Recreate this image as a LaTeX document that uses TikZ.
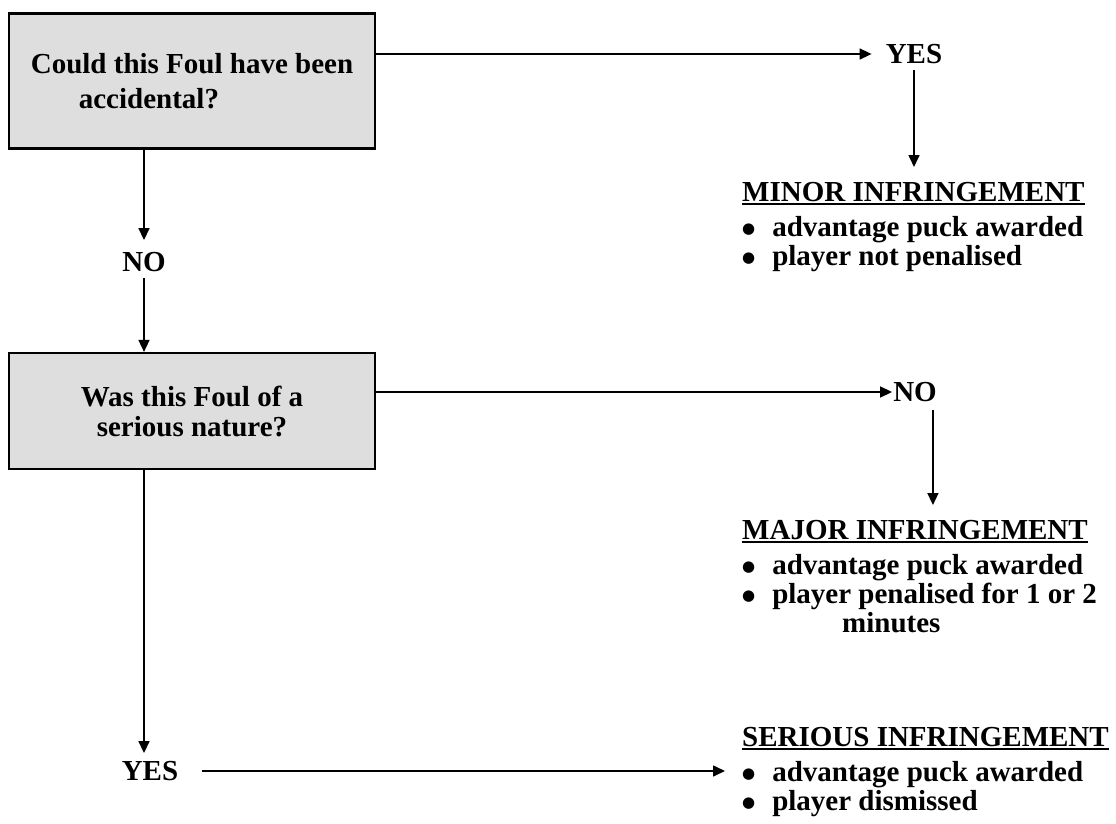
\documentclass[tikz,border=0pt]{standalone}
\usepackage{fontspec}
\setmainfont{Liberation Serif}
\newfontfamily\dotfont{DejaVu Sans}
\usepackage{tikz}
\usetikzlibrary{arrows.meta}
\usetikzlibrary{positioning}
\colorlet{boxgray}{black!13}
\newcommand{\flowfont}{\fontsize{29}{29}\selectfont\bfseries}
\newcommand{\itm}{\raisebox{3pt}{\dotfont\fontsize{15}{15}\selectfont ●}\hspace{17pt}}
\newcommand{\hd}[1]{\setbox0\hbox{#1}\rlap{\rule[-3.5pt]{\wd0}{2.2pt}}\box0}
\tikzset{
  >={Triangle[length=12pt,width=11pt]},
  question/.style={draw=black,line width=2.2pt,fill=boxgray,minimum width=366pt,inner sep=0pt,font=\flowfont},
  answer/.style={inner sep=0pt,font=\flowfont},
  outcome/.style={anchor=north west,align=left,inner sep=0pt,font=\flowfont},
  connect/.style={->,line width=1.6pt,black}
}

\begin{document}
\begin{tikzpicture}[x=1pt,y=-1pt]
  \useasboundingbox (0,0) rectangle (1116,824);
  % questions
  \node[question,minimum height=135pt,align=left] (q1) at (192,81)
    {Could this Foul have been\\[6pt]\hspace*{48pt}accidental?};
  \node[question,minimum height=116pt,align=center] (q2) at (192,411)
    {Was this Foul of a\\[1pt]serious nature?};
  % answers
  \node[answer] (yes1) at (914,54)  {YES};
  \node[answer] (no1)  at (144,262) {NO};
  \node[answer] (no2)  at (915,392) {NO};
  \node[answer] (yes2) at (150,771) {YES};
  % outcomes
  \node[outcome] (minor) at (742,182)
    {\hd{MINOR INFRINGEMENT}\\[6pt]
     \itm advantage puck awarded\\
     \itm player not penalised};
  \node[outcome] (major) at (742,520)
    {\hd{MAJOR INFRINGEMENT}\\[6pt]
     \itm advantage puck awarded\\
     \itm player penalised for 1 or 2\\
     \hspace*{100pt}minutes};
  \node[outcome] (serious) at (742,727)
    {\hd{SERIOUS INFRINGEMENT}\\[6pt]
     \itm advantage puck awarded\\
     \itm player dismissed};
  % connectors
  \draw[connect,shorten >=14pt] (q1.east |- yes1) -- (yes1.west);
  \draw[connect,shorten <=6pt,shorten >=15pt] (yes1.south) -- (yes1.south |- minor.north);
  \draw[connect,shorten >=12pt] (q1.south -| no1) -- (no1.north);
  \draw[connect,shorten <=6pt] (no1.south) -- (q2.north -| no1);
  \draw[connect,shorten >=1pt] (q2.east |- no2) -- (no2.west);
  \draw[connect,shorten <=8pt,shorten >=15pt] ([xshift=-4pt]no2.south east) -- ([xshift=-4pt]no2.south east |- major.north);
  \draw[connect,shorten >=8pt] (q2.south -| no1) -- (no1 |- yes2.north);
  \draw[connect,shorten <=24pt,shorten >=17pt] (yes2.east) -- (yes2.east -| serious.west);
\end{tikzpicture}
\end{document}
